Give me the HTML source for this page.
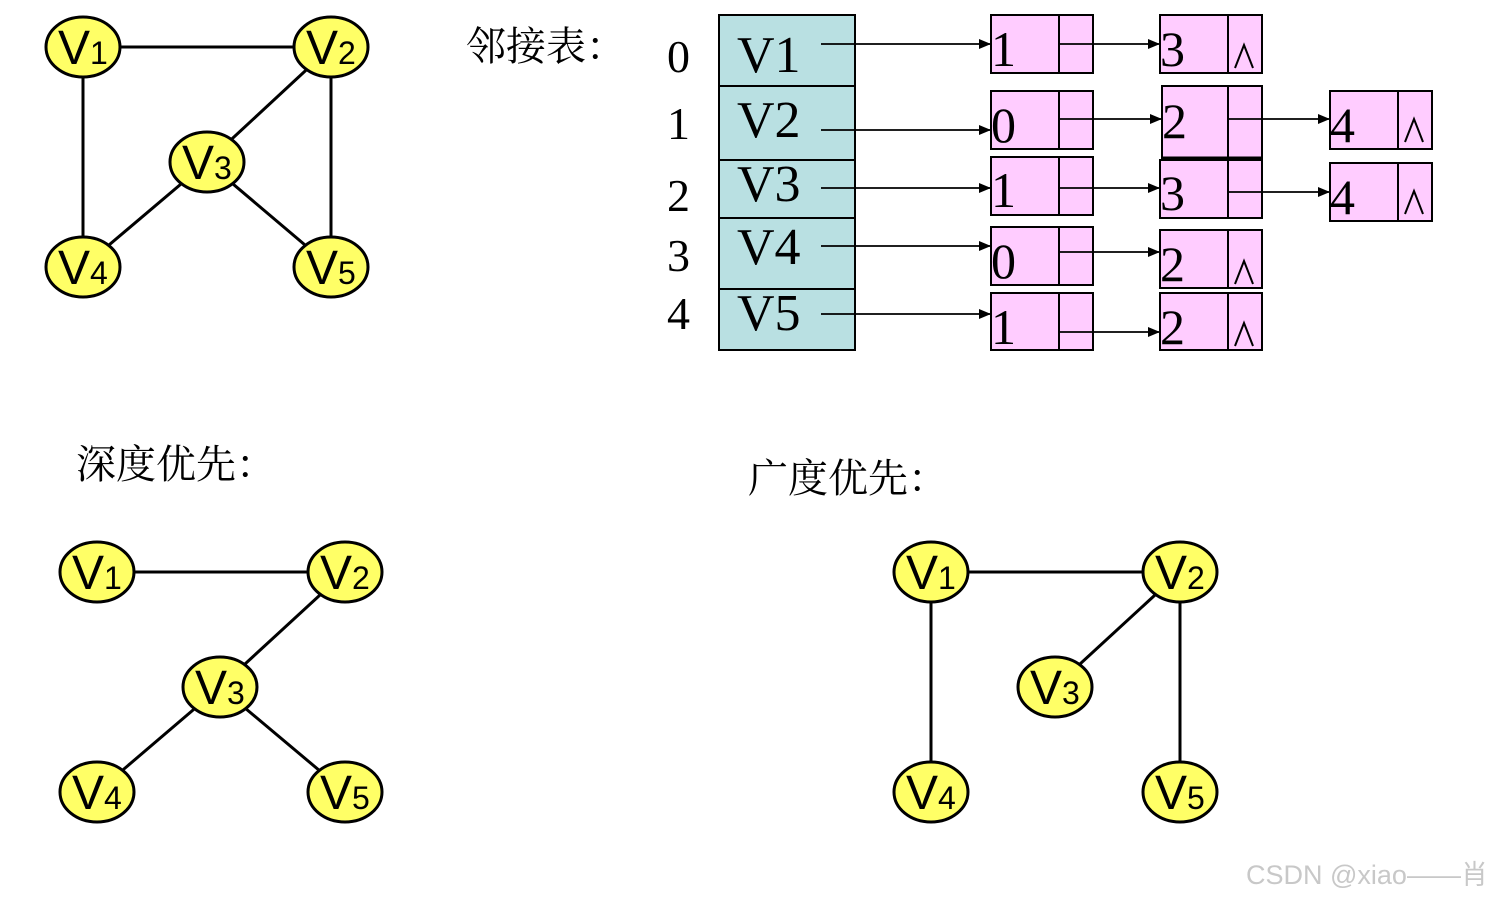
<!DOCTYPE html><html><head><meta charset="utf-8"><style>body{margin:0;background:#fff}svg text{font-family:"Liberation Serif","Noto Serif CJK SC",serif}</style></head><body>
<svg width="1502" height="899" xmlns="http://www.w3.org/2000/svg">
<defs><marker id="a" markerWidth="12" markerHeight="10" refX="12" refY="5" orient="auto" markerUnits="userSpaceOnUse"><path d="M0,0L12,5L0,10z" fill="#000"/></marker>
<g id="n"><ellipse rx="37" ry="30" fill="#ffff66" stroke="#000" stroke-width="3"/></g></defs>
<g stroke="#000" stroke-width="3">
<line x1="83" y1="47" x2="331" y2="47"/><line x1="83" y1="47" x2="83" y2="267"/><line x1="331" y1="47" x2="331" y2="267"/><line x1="331" y1="47" x2="207" y2="162"/><line x1="207" y1="162" x2="83" y2="267"/><line x1="207" y1="162" x2="331" y2="267"/>
<line x1="97" y1="572" x2="345" y2="572"/><line x1="345" y1="572" x2="220" y2="687"/><line x1="220" y1="687" x2="97" y2="792"/><line x1="220" y1="687" x2="345" y2="792"/>
<line x1="931" y1="572" x2="1180" y2="572"/><line x1="931" y1="572" x2="931" y2="792"/><line x1="1180" y1="572" x2="1180" y2="792"/><line x1="1180" y1="572" x2="1055" y2="687"/>
</g>
<g>
<g transform="translate(83,47)"><use href="#n"/><text x="-25" y="17" font-size="48" style="font-family:'Liberation Sans'">V<tspan font-size="32">1</tspan></text></g>
<g transform="translate(331,47)"><use href="#n"/><text x="-25" y="17" font-size="48" style="font-family:'Liberation Sans'">V<tspan font-size="32">2</tspan></text></g>
<g transform="translate(207,162)"><use href="#n"/><text x="-25" y="17" font-size="48" style="font-family:'Liberation Sans'">V<tspan font-size="32">3</tspan></text></g>
<g transform="translate(83,267)"><use href="#n"/><text x="-25" y="17" font-size="48" style="font-family:'Liberation Sans'">V<tspan font-size="32">4</tspan></text></g>
<g transform="translate(331,267)"><use href="#n"/><text x="-25" y="17" font-size="48" style="font-family:'Liberation Sans'">V<tspan font-size="32">5</tspan></text></g>
<g transform="translate(97,572)"><use href="#n"/><text x="-25" y="17" font-size="48" style="font-family:'Liberation Sans'">V<tspan font-size="32">1</tspan></text></g>
<g transform="translate(345,572)"><use href="#n"/><text x="-25" y="17" font-size="48" style="font-family:'Liberation Sans'">V<tspan font-size="32">2</tspan></text></g>
<g transform="translate(220,687)"><use href="#n"/><text x="-25" y="17" font-size="48" style="font-family:'Liberation Sans'">V<tspan font-size="32">3</tspan></text></g>
<g transform="translate(97,792)"><use href="#n"/><text x="-25" y="17" font-size="48" style="font-family:'Liberation Sans'">V<tspan font-size="32">4</tspan></text></g>
<g transform="translate(345,792)"><use href="#n"/><text x="-25" y="17" font-size="48" style="font-family:'Liberation Sans'">V<tspan font-size="32">5</tspan></text></g>
<g transform="translate(931,572)"><use href="#n"/><text x="-25" y="17" font-size="48" style="font-family:'Liberation Sans'">V<tspan font-size="32">1</tspan></text></g>
<g transform="translate(1180,572)"><use href="#n"/><text x="-25" y="17" font-size="48" style="font-family:'Liberation Sans'">V<tspan font-size="32">2</tspan></text></g>
<g transform="translate(1055,687)"><use href="#n"/><text x="-25" y="17" font-size="48" style="font-family:'Liberation Sans'">V<tspan font-size="32">3</tspan></text></g>
<g transform="translate(931,792)"><use href="#n"/><text x="-25" y="17" font-size="48" style="font-family:'Liberation Sans'">V<tspan font-size="32">4</tspan></text></g>
<g transform="translate(1180,792)"><use href="#n"/><text x="-25" y="17" font-size="48" style="font-family:'Liberation Sans'">V<tspan font-size="32">5</tspan></text></g>
</g>
<text x="466" y="60" font-size="40" style="font-family:'Noto Serif CJK SC',serif">邻接表：</text>
<text x="76" y="478" font-size="40" style="font-family:'Noto Serif CJK SC',serif">深度优先：</text>
<text x="748" y="492" font-size="40" style="font-family:'Noto Serif CJK SC',serif">广度优先：</text>
<g font-size="46"><text x="667" y="72">0</text><text x="667" y="139">1</text><text x="667" y="211">2</text><text x="667" y="271">3</text><text x="667" y="329">4</text></g>
<g fill="#b9e0e2" stroke="#000" stroke-width="2">
<rect x="719" y="15" width="136" height="71"/><rect x="719" y="86" width="136" height="74"/><rect x="719" y="160" width="136" height="58"/><rect x="719" y="218" width="136" height="71"/><rect x="719" y="289" width="136" height="61"/></g>
<g font-size="52"><text x="737" y="72">V1</text><text x="737" y="137">V2</text><text x="737" y="201">V3</text><text x="737" y="264">V4</text><text x="737" y="330">V5</text></g>
<g fill="#ffccff" stroke="#000" stroke-width="2">
<rect x="991" y="15" width="102" height="58"/><rect x="991" y="91" width="102" height="58"/><rect x="991" y="157" width="102" height="58"/><rect x="991" y="227" width="102" height="58"/><rect x="991" y="293" width="102" height="57"/>
<rect x="1160" y="15" width="102" height="58"/><rect x="1162" y="86" width="100" height="72"/><rect x="1160" y="160" width="102" height="58"/><rect x="1160" y="230" width="102" height="58"/><rect x="1160" y="293" width="102" height="57"/>
<rect x="1330" y="91" width="102" height="58"/><rect x="1330" y="163" width="102" height="58"/></g>
<g stroke="#000" stroke-width="2">
<line x1="1059" y1="15" x2="1059" y2="73"/><line x1="1059" y1="91" x2="1059" y2="149"/><line x1="1059" y1="157" x2="1059" y2="215"/><line x1="1059" y1="227" x2="1059" y2="285"/><line x1="1059" y1="293" x2="1059" y2="350"/>
<line x1="1228" y1="15" x2="1228" y2="73"/><line x1="1228" y1="86" x2="1228" y2="158"/><line x1="1228" y1="160" x2="1228" y2="218"/><line x1="1228" y1="230" x2="1228" y2="288"/><line x1="1228" y1="293" x2="1228" y2="350"/>
<line x1="1398" y1="91" x2="1398" y2="149"/><line x1="1398" y1="163" x2="1398" y2="221"/>
<line x1="1162" y1="158" x2="1262" y2="158" stroke-width="3"/></g>
<g stroke="#000" stroke-width="1.8" marker-end="url(#a)">
<line x1="821" y1="44" x2="991" y2="44"/><line x1="821" y1="130" x2="991" y2="130"/><line x1="821" y1="188" x2="991" y2="188"/><line x1="821" y1="246" x2="991" y2="246"/><line x1="821" y1="314" x2="991" y2="314"/>
<line x1="1059" y1="44" x2="1160" y2="44"/><line x1="1059" y1="119" x2="1162" y2="119"/><line x1="1059" y1="188" x2="1160" y2="188"/><line x1="1059" y1="252" x2="1160" y2="252"/><line x1="1059" y1="332" x2="1160" y2="332"/>
<line x1="1228" y1="119" x2="1330" y2="119"/><line x1="1228" y1="192" x2="1330" y2="192"/></g>
<g font-size="50"><text x="991" y="66">1</text><text x="991" y="142">0</text><text x="991" y="207">1</text><text x="991" y="278">0</text><text x="991" y="344">1</text>
<text x="1160" y="66">3</text><text x="1162" y="138">2</text><text x="1160" y="210">3</text><text x="1160" y="281">2</text><text x="1160" y="344">2</text>
<text x="1330" y="142">4</text><text x="1330" y="214">4</text></g>
<g fill="none" stroke="#000" stroke-width="2">
<path d="M1235,68L1244,45L1253,68"/><path d="M1405,142L1414,119L1423,142"/><path d="M1405,214L1414,191L1423,214"/><path d="M1235,284L1244,261L1253,284"/><path d="M1235,346L1244,323L1253,346"/></g>
<text x="1246" y="884" font-size="27" fill="#c8c8c8" style="font-family:'Liberation Sans','Noto Sans CJK SC',sans-serif">CSDN @xiao——肖</text>
</svg></body></html>
